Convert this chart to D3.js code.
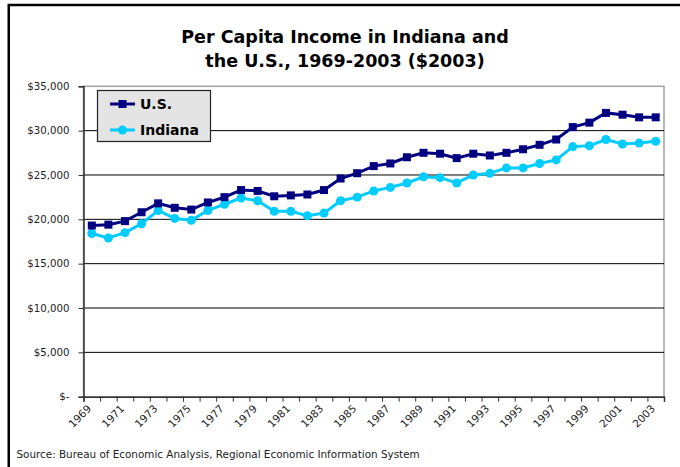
<!DOCTYPE html>
<html>
<head>
<meta charset="utf-8">
<script src="https://cdn.jsdelivr.net/npm/d3@7"></script>
<style>
  html, body { margin: 0; padding: 0; background: #fff; }
  svg { display: block; }
</style>
</head>
<body>
<svg id="chart" width="680" height="467"></svg>
<script>
const years = d3.range(1969, 2004);
const usValues = [19300, 19400, 19800, 20800, 21800, 21300, 21100, 21900, 22500, 23300,
  23200, 22600, 22700, 22800, 23300, 24600, 25200, 26000, 26300, 27000,
  27500, 27400, 26900, 27400, 27200, 27500, 27900, 28400, 29000, 30400,
  30900, 32000, 31800, 31500, 31500];
const indianaValues = [18400, 17900, 18500, 19500, 21000, 20100, 19900, 21000, 21700, 22400,
  22100, 20900, 20900, 20400, 20700, 22100, 22500, 23200, 23600, 24100,
  24800, 24700, 24100, 25000, 25200, 25800, 25800, 26300, 26700, 28200,
  28300, 29000, 28500, 28600, 28800];
const yTicks = [0, 5000, 10000, 15000, 20000, 25000, 30000, 35000];
const xLabelYears = years.filter(y => (y - 1969) % 2 === 0);
const seriesNames = ["U.S.", "Indiana"];
const titleLines = ["Per Capita Income in Indiana and", "the U.S., 1969-2003 ($2003)"];
const sourceText = "Source: Bureau of Economic Analysis, Regional Economic Information System";

(function () {
const svg = d3.select("#chart");
const pL = 83.5, pR = 664, pT = 86.3, pB = 396.7;

// outer frame
svg.append("rect").attr("x", 0).attr("y", 0).attr("width", 680).attr("height", 467).attr("fill", "#fff");
svg.append("path").attr("d", "M8.75,470 V5 H690").attr("fill", "none").attr("stroke", "#000").attr("stroke-width", 2.5);

// title
const title = svg.append("text").attr("text-anchor", "middle")
  .attr("font-family", "'DejaVu Sans', sans-serif").attr("font-weight", "bold")
  .attr("font-size", 17.5).attr("fill", "#000");
title.selectAll("tspan").data(titleLines).join("tspan")
  .attr("x", 345).attr("y", (d, i) => 43 + i * 24).text(d => d);

const x = d3.scaleBand().domain(years).range([pL, pR]).padding(0);
const xb = d3.scaleLinear().domain([0, years.length]).range([pL, pR]);
const y = d3.scaleLinear().domain([0, 35000]).range([pB, pT]);
const cx = d => x(d) + x.bandwidth() / 2;

// plot area
svg.append("rect").attr("x", pL).attr("y", pT).attr("width", pR - pL).attr("height", pB - pT)
  .attr("fill", "#fff").attr("stroke", "#a0a0a0").attr("stroke-width", 1.5);

// gridlines
svg.append("g").selectAll("line").data(yTicks.filter(t => t > 0 && t < 35000)).join("line")
  .attr("x1", pL).attr("x2", pR).attr("y1", d => y(d)).attr("y2", d => y(d))
  .attr("stroke", "#000").attr("stroke-width", 1);

// y axis
const yAxis = svg.append("g").attr("transform", `translate(${pL},0)`)
  .call(d3.axisLeft(y).tickValues(yTicks).tickSize(5).tickPadding(9)
    .tickFormat(d => d === 0 ? "$-" : "$" + d3.format(",")(d)));
yAxis.select(".domain").attr("stroke", "#333").attr("stroke-width", 1.5);
yAxis.selectAll(".tick line").attr("stroke", "#333");
yAxis.selectAll("text").attr("font-family", "'DejaVu Sans', sans-serif").attr("font-size", 10.2).attr("fill", "#222");

// x axis
const xAxis = svg.append("g").attr("transform", `translate(0,${pB})`)
  .call(d3.axisBottom(xb).tickValues(d3.range(years.length + 1)).tickSize(5).tickFormat(""));
xAxis.select(".domain").attr("stroke", "#333").attr("stroke-width", 1.5);
xAxis.selectAll(".tick line").attr("stroke", "#333");

svg.append("g").selectAll("text").data(xLabelYears).join("text")
  .attr("transform", d => `translate(${cx(d) - 2.5},${pB + 10}) rotate(-45)`)
  .attr("text-anchor", "end").attr("dy", "0.35em")
  .attr("font-family", "'DejaVu Sans', sans-serif").attr("font-size", 10.5).attr("fill", "#222")
  .text(d => d);

// series
const usData = years.map((yr, i) => ({ yr, v: usValues[i] }));
const inData = years.map((yr, i) => ({ yr, v: indianaValues[i] }));
const line = d3.line().x(d => cx(d.yr)).y(d => y(d.v));
const usColor = "#000080", inColor = "#00ccff";

svg.append("path").datum(inData).attr("d", line).attr("fill", "none").attr("stroke", inColor).attr("stroke-width", 3);
svg.append("g").selectAll("circle").data(inData).join("circle")
  .attr("cx", d => cx(d.yr)).attr("cy", d => y(d.v)).attr("r", 4.5).attr("fill", inColor);

svg.append("path").datum(usData).attr("d", line).attr("fill", "none").attr("stroke", usColor).attr("stroke-width", 3);
svg.append("g").selectAll("rect").data(usData).join("rect")
  .attr("x", d => cx(d.yr) - 4).attr("y", d => y(d.v) - 4).attr("width", 8).attr("height", 8).attr("fill", usColor);

// legend
const lg = svg.append("g");
lg.append("rect").attr("x", 97.5).attr("y", 90.5).attr("width", 113).attr("height", 51)
  .attr("fill", "#e4e4e4").attr("stroke", "#222").attr("stroke-width", 1.2);
const legendItems = [{ name: seriesNames[0], color: usColor, shape: "square", y: 104 },
                     { name: seriesNames[1], color: inColor, shape: "circle", y: 130 }];
legendItems.forEach(it => {
  lg.append("line").attr("x1", 110).attr("x2", 135).attr("y1", it.y).attr("y2", it.y)
    .attr("stroke", it.color).attr("stroke-width", 3);
  if (it.shape === "square") {
    lg.append("rect").attr("x", 118.5).attr("y", it.y - 4).attr("width", 8).attr("height", 8).attr("fill", it.color);
  } else {
    lg.append("circle").attr("cx", 122.5).attr("cy", it.y).attr("r", 4.5).attr("fill", it.color);
  }
  lg.append("text").attr("x", 140).attr("y", it.y + 5)
    .attr("font-family", "'DejaVu Sans', sans-serif").attr("font-weight", "bold").attr("font-size", 14)
    .attr("fill", "#000").text(it.name);
});

// source
svg.append("text").attr("x", 16.5).attr("y", 457.5)
  .attr("font-family", "'DejaVu Sans', sans-serif").attr("font-size", 10.4).attr("fill", "#222")
  .text(sourceText);
})();
</script>
</body>
</html>
